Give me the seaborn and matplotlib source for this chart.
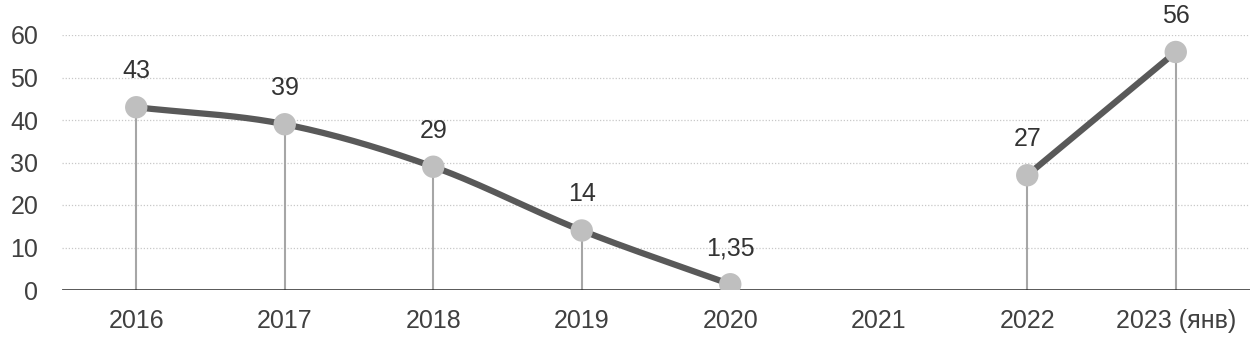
import numpy as np
import pandas as pd
import seaborn as sns
import matplotlib.pyplot as plt

# data
years = ["2016", "2017", "2018", "2019", "2020", "2021", "2022", "2023 (янв)"]
values = [43, 39, 29, 14, 1.35, np.nan, 27, 56]
labels = ["43", "39", "29", "14", "1,35", "", "27", "56"]

sns.set_style("white")
plt.rcParams['font.family'] = ['Liberation Sans', 'DejaVu Sans']

df = pd.DataFrame({"x": range(len(years)), "year": years, "value": values, "label": labels})


def smooth(seg, n=40):
    # catmull-rom style smoothing of a segment, like an office "smoothed line"
    xs = seg["x"].to_numpy(float)
    ys = seg["value"].to_numpy(float)
    if len(xs) < 3:
        return xs, ys
    px = np.concatenate([[2 * xs[0] - xs[1]], xs, [2 * xs[-1] - xs[-2]]])
    py = np.concatenate([[2 * ys[0] - ys[1]], ys, [2 * ys[-1] - ys[-2]]])
    ox, oy = [], []
    t = np.linspace(0, 1, n)
    for i in range(1, len(px) - 2):
        for p, out in ((px, ox), (py, oy)):
            p0, p1, p2, p3 = p[i - 1], p[i], p[i + 1], p[i + 2]
            out.extend(0.5 * ((2 * p1) + (-p0 + p2) * t + (2 * p0 - 5 * p1 + 4 * p2 - p3) * t ** 2
                              + (-p0 + 3 * p1 - 3 * p2 + p3) * t ** 3))
    return np.array(ox), np.array(oy)


fig = plt.figure(figsize=(12.53, 3.46), dpi=100)
ax = fig.add_axes([62 / 1253, 56 / 346, 1188 / 1253, 255 / 346])

# drop lines
valid = df.dropna(subset=["value"])
ax.vlines(valid["x"], 0, valid["value"], color="#a6a6a6", lw=1.5, zorder=1)

# line segments (gap at 2021)
seg_id = df["value"].isna().cumsum()
for _, seg in df[df["value"].notna()].groupby(seg_id[df["value"].notna()]):
    sx, sy = smooth(seg)
    sns.lineplot(x=sx, y=sy, ax=ax, color="#595959", lw=4.5, sort=False, zorder=2)

sns.scatterplot(data=valid, x="x", y="value", ax=ax, s=260, color="#bfbfbf",
                edgecolor="none", zorder=3)

for _, r in valid.iterrows():
    ax.annotate(r["label"], (r["x"], r["value"]), xytext=(0, 26), textcoords="offset points",
                ha="center", va="center", fontsize=18, color="#333333", annotation_clip=False)

ax.set_xlim(-0.5, len(years) - 0.5)
ax.set_ylim(0, 60)
ax.set_yticks(range(0, 61, 10))
ax.set_xticks(df["x"])
ax.set_xticklabels(years)
ax.tick_params(axis="both", length=0, labelsize=18, labelcolor="#404040")
ax.tick_params(axis="x", pad=14)
ax.tick_params(axis="y", pad=17)
for y in range(10, 61, 10):
    ax.axhline(y, color="#c8c8c8", lw=0.9, ls=(0, (1, 1.5)), zorder=0)
ax.axhline(0, color="#262626", lw=1.8, zorder=2)
for s in ax.spines.values():
    s.set_visible(False)
ax.set_xlabel("")
ax.set_ylabel("")

fig.savefig("out.png", dpi=100)
